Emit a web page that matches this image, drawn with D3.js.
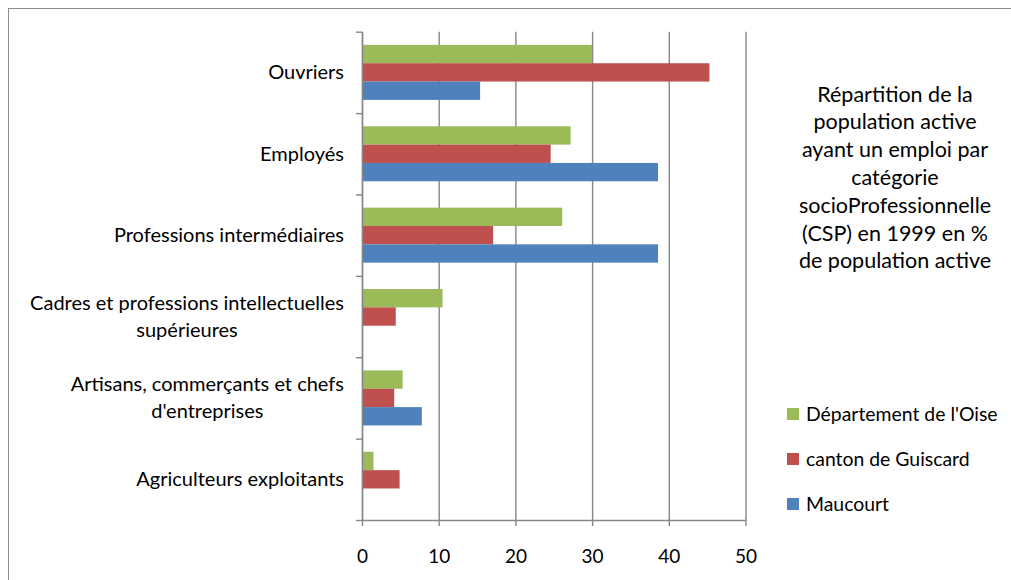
<!DOCTYPE html>
<html><head><meta charset="utf-8">
<script src="https://cdn.jsdelivr.net/npm/d3@7"></script>
<style>
body{margin:0;background:#fff}
svg{display:block}
text{font-family:Lato, "Open Sans", sans-serif; fill:#000}
</style>
</head><body><svg id="c" width="1011" height="580"></svg>
<script>
const categories = ["Ouvriers","Employés","Professions intermédiaires","Cadres et professions intellectuelles supérieures","Artisans, commerçants et chefs d'entreprises","Agriculteurs exploitants"];
const categoryLines = [["Ouvriers"],["Employés"],["Professions intermédiaires"],["Cadres et professions intellectuelles","supérieures"],["Artisans, commerçants et chefs","d'entreprises"],["Agriculteurs exploitants"]];
const seriesNames = ["Département de l'Oise","canton de Guiscard","Maucourt"];
const oise = [30.0, 27.2, 26.1, 10.5, 5.3, 1.5];
const guiscard = [45.3, 24.6, 17.1, 4.4, 4.2, 4.9];
const maucourt = [15.4, 38.6, 38.6, 0, 7.8, 0];
const xTicks = [0, 10, 20, 30, 40, 50];
const titleLines = ["Répartition de la","population active","ayant un emploi par","catégorie","socioProfessionnelle","(CSP) en 1999 en %","de population active"];
const colors = ["#9BBB59","#C0504D","#4F81BD"];

const seriesValues = [oise, guiscard, maucourt];
const svg = d3.select("#c");
const FS = 20;

// outer border
svg.append("rect").attr("x",8.5).attr("y",8.5).attr("width",1100).attr("height",700)
  .attr("fill","none").attr("stroke","#8c8c8c").attr("stroke-width",1);

const pLeft = 362, pRight = 745.5, pTop = 31.7, pBottom = 520;
const x = d3.scaleLinear().domain([0,50]).range([pLeft,pRight]);
const pad = 0.324;
const y0 = d3.scaleBand().domain(categories).range([pTop,pBottom]).paddingInner(pad).paddingOuter(pad/2);
const y1 = d3.scaleBand().domain(seriesNames).range([0,y0.bandwidth()]);
const yIdx = d3.scaleLinear().domain([0,categories.length]).range([pTop,pBottom]);

// gridlines
svg.append("g").attr("transform",`translate(0,${pBottom})`)
  .call(d3.axisBottom(x).tickValues(xTicks).tickSize(-(pBottom-pTop)).tickFormat(""))
  .call(g=>g.select(".domain").remove())
  .call(g=>g.selectAll("line").attr("stroke","#868686").attr("stroke-width",1.4));

// bars
const data = [];
categories.forEach((c,i)=>seriesNames.forEach((s,j)=>data.push({c,s,j,v:seriesValues[j][i]})));
svg.append("g").selectAll("rect").data(data.filter(d=>d.v>0)).join("rect")
  .attr("x",x(0)).attr("y",d=>y0(d.c)+y1(d.s)).attr("height",y1.bandwidth())
  .attr("width",d=>x(d.v)-x(0)).attr("fill",d=>colors[d.j]);

// bottom axis
const xa = svg.append("g").attr("transform",`translate(0,${pBottom})`)
  .call(d3.axisBottom(x).tickValues(xTicks).tickSize(6).tickPadding(24).tickSizeOuter(0));
xa.select(".domain").attr("stroke","#868686").attr("stroke-width",1.4);
xa.selectAll("line").attr("stroke","#868686").attr("stroke-width",1.4);
xa.selectAll("text").attr("font-size",19).attr("font-family","Lato").attr("fill","#000");

// left axis
const ya = svg.append("g").attr("transform",`translate(${pLeft},0)`)
  .call(d3.axisLeft(yIdx).tickValues(d3.range(categories.length+1)).tickSize(6).tickFormat("").tickSizeOuter(0));
ya.select(".domain").attr("stroke","#868686").attr("stroke-width",1.4);
ya.selectAll("line").attr("stroke","#868686").attr("stroke-width",1.4);

// category labels
const labelRight = 344;
const lh = 27;
categories.forEach((c,i)=>{
  const lines = categoryLines[i];
  const cy = y0(c) + y0.bandwidth()/2;
  const g = svg.append("g");
  const ts = lines.map((l,k)=>g.append("text").attr("font-size",FS).attr("text-anchor","middle")
      .attr("y", cy + (k-(lines.length-1)/2)*lh).attr("dy","0.35em").text(l));
  const w = d3.max(ts, t=>t.node().getComputedTextLength());
  ts.forEach(t=>t.attr("x", labelRight - w/2));
});

// title
const tg = svg.append("g");
titleLines.forEach((l,k)=>tg.append("text").attr("x",895).attr("y",101.5+k*27.8)
  .attr("text-anchor","middle").attr("font-size",21.5).text(l));

// legend
const lg = svg.append("g");
seriesNames.forEach((s,j)=>{
  const yy = 414 + j*45;
  lg.append("rect").attr("x",787).attr("y",yy-6).attr("width",12).attr("height",12).attr("fill",colors[j]);
  lg.append("text").attr("x",806).attr("y",yy).attr("dy","0.35em").attr("font-size",19.4).text(s);
});
</script>
</body></html>
